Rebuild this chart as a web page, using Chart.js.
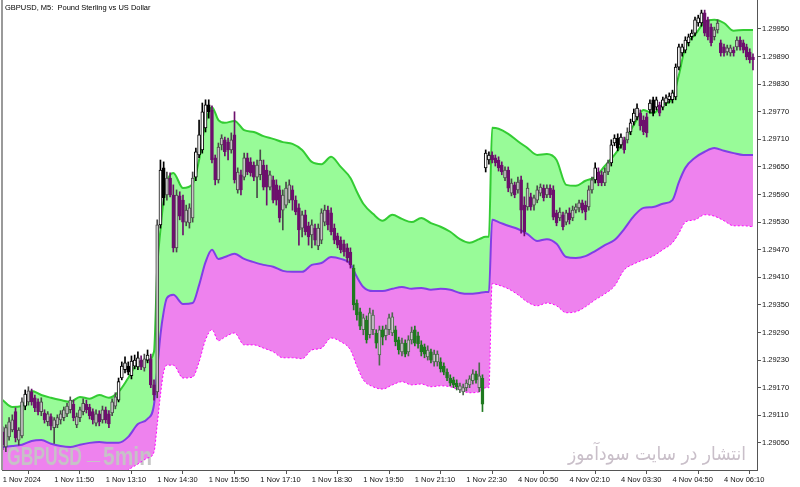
<!DOCTYPE html>
<html><head><meta charset="utf-8">
<script src="https://cdn.jsdelivr.net/npm/chart.js@4.4.1/dist/chart.umd.min.js"></script>
<style>html,body{margin:0;padding:0;background:#fff;overflow:hidden}#wrap{width:800px;height:487px}</style>
</head><body><div id="wrap"><canvas id="c" width="800" height="487"></canvas></div>
<script>
// ---------- DATA (prices in points: 29950 = 1.29950) ----------
const chartTitle = 'GBPUSD, M5:  Pound Sterling vs US Dollar';
const watermarkParts = ['GBPUSD', '_', '5min'];
const watermarkRight = 'انتشار در سایت سودآموز';

const xTickIdx = [0,16,32,48,64,80,96,112,128,144,160,176,192,208,224];
const xTickLabels = ['1 Nov 2024','1 Nov 11:50','1 Nov 13:10','1 Nov 14:30','1 Nov 15:50','1 Nov 17:10','1 Nov 18:30','1 Nov 19:50','1 Nov 21:10','1 Nov 22:30','4 Nov 00:50','4 Nov 02:10','4 Nov 03:30','4 Nov 04:50','4 Nov 06:10'];
const yTickValues = [29050,29110,29170,29230,29290,29350,29410,29470,29530,29590,29650,29710,29770,29830,29890,29950];

const openP = [29074,29041,29063,29078,29118,29056,29065,29130,29139,29161,
29148,29139,29118,29115,29096,29107,29083,29089,29100,29105,
29113,29122,29134,29089,29105,29118,29134,29128,29118,29093,
29113,29100,29122,29113,29115,29130,29143,29191,29209,29217,
29196,29217,29215,29230,29213,29230,29233,29176,29161,29524,
29648,29589,29626,29589,29474,29587,29578,29530,29528,29539,
29628,29676,29687,29735,29785,29774,29670,29622,29698,29709,
29704,29687,29720,29600,29633,29628,29670,29661,29654,29628,
29633,29654,29643,29606,29622,29611,29600,29556,29567,29578,
29600,29578,29561,29517,29546,29522,29502,29517,29478,29491,
29530,29556,29550,29517,29500,29491,29483,29474,29465,29430,
29354,29335,29296,29317,29285,29296,29289,29241,29296,29283,
29296,29289,29296,29274,29248,29267,29248,29274,29296,29283,
29263,29259,29237,29248,29226,29226,29226,29217,29204,29191,
29187,29180,29165,29161,29170,29176,29185,29200,29170,29191,
29648,29665,29676,29670,29665,29654,29626,29643,29593,29611,
29600,29622,29567,29563,29585,29567,29578,29593,29604,29589,
29604,29600,29550,29539,29546,29530,29550,29539,29556,29561,
29572,29567,29563,29600,29622,29639,29633,29615,29639,29659,
29702,29713,29698,29709,29709,29726,29748,29759,29767,29752,
29759,29774,29796,29780,29785,29780,29789,29796,29796,29802,
29867,29898,29904,29920,29933,29941,29963,29963,29985,29970,
29954,29933,29948,29920,29911,29900,29898,29904,29911,29926,
29920,29911,29900,29889];

const highP = [29085,29089,29105,29111,29126,29083,29148,29165,29172,29167,
29154,29146,29148,29122,29118,29113,29105,29111,29120,29128,
29136,29150,29143,29115,29128,29146,29143,29134,29124,29122,
29120,29130,29128,29120,29146,29159,29191,29226,29237,29226,
29239,29241,29248,29239,29243,29252,29243,29187,29535,29665,
29661,29639,29637,29611,29600,29596,29589,29567,29570,29639,
29691,29752,29789,29796,29796,29783,29676,29702,29720,29715,
29713,29724,29770,29648,29643,29680,29680,29670,29661,29665,
29687,29665,29654,29641,29630,29622,29609,29600,29617,29622,
29609,29587,29570,29554,29556,29530,29535,29526,29526,29559,
29567,29565,29561,29526,29506,29498,29491,29483,29474,29437,
29361,29343,29330,29326,29343,29339,29296,29304,29304,29306,
29330,29333,29304,29280,29278,29274,29283,29302,29304,29291,
29272,29265,29261,29254,29252,29250,29235,29224,29211,29198,
29193,29187,29180,29178,29187,29196,29209,29206,29224,29198,
29687,29683,29683,29676,29672,29661,29650,29650,29624,29617,
29628,29630,29585,29615,29593,29589,29609,29613,29611,29611,
29611,29609,29556,29561,29552,29556,29561,29565,29570,29578,
29578,29576,29609,29628,29659,29648,29641,29648,29665,29709,
29720,29722,29722,29715,29735,29754,29776,29787,29774,29761,
29767,29796,29802,29802,29791,29802,29807,29811,29817,29874,
29917,29917,29933,29939,29948,29976,29980,29991,29991,29976,
29961,29954,29970,29926,29917,29915,29915,29911,29933,29933,
29926,29917,29907,29896];

const lowP = [29035,29031,29056,29074,29052,29045,29061,29122,29132,29132,
29118,29111,29109,29093,29087,29078,29049,29083,29091,29098,
29107,29115,29098,29083,29096,29111,29115,29102,29091,29087,
29087,29093,29093,29083,29109,29124,29139,29187,29202,29198,
29189,29211,29209,29209,29206,29224,29170,29143,29148,29517,
29567,29578,29585,29465,29465,29535,29502,29522,29517,29530,
29620,29670,29680,29726,29756,29659,29611,29615,29687,29674,
29665,29680,29615,29593,29589,29622,29633,29630,29620,29583,
29622,29600,29567,29600,29572,29567,29530,29513,29561,29572,
29556,29546,29480,29498,29502,29480,29474,29480,29470,29483,
29522,29513,29502,29483,29474,29463,29456,29443,29430,29339,
29317,29296,29285,29267,29278,29285,29256,29219,29263,29274,
29285,29283,29261,29243,29239,29237,29239,29265,29261,29256,
29239,29235,29230,29224,29217,29217,29204,29198,29185,29174,
29170,29165,29159,29154,29163,29170,29178,29180,29161,29118,
29639,29656,29659,29652,29641,29633,29620,29596,29587,29583,
29593,29506,29500,29556,29556,29556,29572,29587,29576,29583,
29583,29535,29522,29533,29513,29524,29526,29533,29550,29552,
29550,29535,29556,29593,29615,29609,29609,29609,29633,29652,
29696,29685,29691,29680,29702,29720,29741,29752,29730,29720,
29715,29767,29761,29774,29761,29774,29783,29789,29789,29796,
29861,29891,29898,29913,29926,29935,29956,29956,29935,29926,
29913,29926,29941,29891,29891,29893,29891,29891,29904,29904,
29898,29883,29876,29861];

const closeP = [29045,29083,29096,29100,29061,29078,29139,29156,29163,29139,
29126,29118,29139,29100,29113,29087,29100,29105,29113,29122,
29130,29143,29105,29107,29122,29136,29122,29109,29100,29113,
29096,29122,29100,29091,29139,29150,29183,29217,29224,29204,
29228,29230,29235,29215,29233,29241,29176,29154,29524,29643,
29583,29626,29589,29474,29589,29543,29530,29556,29561,29626,
29683,29720,29770,29785,29770,29665,29622,29693,29713,29683,
29687,29709,29622,29639,29600,29670,29639,29637,29628,29654,
29665,29606,29606,29633,29578,29578,29539,29589,29604,29611,
29578,29552,29513,29546,29509,29498,29524,29491,29517,29550,
29556,29524,29509,29491,29480,29470,29465,29452,29437,29350,
29328,29304,29322,29274,29333,29328,29267,29296,29280,29298,
29322,29324,29270,29252,29267,29243,29274,29291,29267,29265,
29248,29243,29252,29230,29243,29243,29211,29204,29191,29180,
29176,29172,29174,29170,29180,29189,29200,29187,29196,29134,
29680,29676,29665,29659,29648,29639,29643,29604,29615,29589,
29617,29556,29509,29604,29563,29583,29600,29606,29583,29604,
29589,29541,29528,29552,29520,29550,29535,29556,29563,29572,
29556,29552,29600,29622,29648,29615,29615,29639,29659,29698,
29713,29691,29715,29687,29726,29746,29767,29778,29739,29726,
29724,29789,29767,29796,29767,29796,29800,29804,29811,29867,
29911,29911,29926,29933,29941,29970,29974,29985,29941,29933,
29920,29948,29963,29898,29898,29909,29909,29898,29926,29911,
29904,29889,29883,29883];

const bandIdx = [0,3,6,9,12,15,18,21,24,27,30,33,36,39,42,45,47,48,49,50,51,53,56,59,61,63,65,67,69,72,75,78,81,84,87,90,93,96,99,102,105,108,110,112,115,118,121,124,127,130,133,136,139,142,145,148,150,151,152,154,157,160,163,166,169,172,175,178,181,184,187,190,193,196,199,202,205,208,210,212,215,218,221,224,227,230,233];

const upperBand = [29143,29128,29130,29163,29154,29148,29143,29139,29150,29146,29154,29148,29161,29191,29224,29230,
29248,29430,29513,29578,29617,
29637,29604,29613,29665,29746,29780,29752,29746,
29750,29730,29726,29717,29711,29704,29700,29687,29661,29656,29672,29650,29626,
29596,29570,
29548,29533,29546,29537,29530,29539,29528,29520,29509,29493,29485,29493,
29498,29498,29735,29733,
29722,29706,29691,29676,29678,29665,29611,29609,29620,29628,29652,29676,29706,29741,29774,29767,29785,29800,
29850,29911,
29937,29965,29970,29963,29946,29948,29948];

const middleBand = [29041,29043,29046,29054,29056,29048,29043,29041,29046,29050,29052,29050,29050,29063,29091,29102,
29133,29209,29285,29335,29365,
29372,29352,29354,29393,29443,29470,29450,29454,
29461,29450,29443,29437,29433,29424,29422,29422,29437,29441,29454,29450,29439,
29411,29389,
29380,29380,29385,29389,29385,29387,29383,29385,29383,29376,29374,29376,
29378,29378,29535,29530,
29522,29515,29504,29489,29493,29483,29454,29452,29456,29467,29480,29491,29515,29543,29561,29563,29570,29578,
29617,29648,
29670,29683,29691,29685,29680,29676,29676];

const lowerBand = [28937,28937,28937,28943,28948,28943,28937,28937,28941,28948,28952,28959,28974,28991,29004,29017,
29030,29089,29154,29204,29219,
29219,29191,29193,29226,29274,29296,29272,29280,
29289,29263,29263,29256,29248,29235,29235,29233,29252,29256,29278,29270,29252,
29217,29187,
29172,29167,29176,29183,29176,29178,29172,29174,29172,29165,29159,29161,
29170,29170,29396,29393,
29385,29372,29356,29348,29354,29348,29333,29335,29346,29361,29374,29391,29426,29439,29448,29456,29470,29485,
29506,29530,
29535,29546,29543,29533,29522,29522,29520];

// ---------- helpers ----------
function bandAt(arr, i){
  for (let k = 0; k < bandIdx.length - 1; k++){
    if (i >= bandIdx[k] && i <= bandIdx[k+1]){
      const t = (i - bandIdx[k]) / (bandIdx[k+1] - bandIdx[k]);
      return arr[k] + (arr[k+1] - arr[k]) * t;
    }
  }
  return arr[arr.length-1];
}
function regionOf(i){
  const mid = (openP[i] + closeP[i]) / 2;
  if (mid > bandAt(upperBand, i)) return 0;
  if (mid > bandAt(middleBand, i)) return 1;
  return 2;
}
const BODY = [ {bull:'#ffffff', bear:'#000000'}, {bull:'#c6c6c6', bear:'#6d106d'}, {bull:'#d2c6d2', bear:'#1f7a1f'} ];
const EDGE = [ {bull:'#000000', bear:'#000000'}, {bull:'#4a4a4a', bear:'#6d106d'}, {bull:'#4d6a4d', bear:'#1f7a1f'} ];
function isBull(i){ return closeP[i] >= openP[i]; }

const bars = openP.map((_, i) => i);
const bodyData = bars.map(i => ({x: i, y: [openP[i], closeP[i]]}));
const wickData = bars.map(i => ({x: i, y: [lowP[i], highP[i]]}));
const pts = arr => bandIdx.map((b, k) => ({x: b, y: arr[k]}));

Chart.defaults.font.family = '"Liberation Sans", Arial, sans-serif';
Chart.defaults.font.size = 7.5;
Chart.defaults.color = '#111';

const decor = {
  id: 'decor',
  beforeDatasetsDraw(chart){
    const ctx = chart.ctx;
    ctx.save();
    ctx.font = 'bold 26px "Liberation Sans", Arial, sans-serif';
    ctx.fillStyle = 'rgba(196,196,196,0.95)';
    ctx.textBaseline = 'alphabetic';
    const spans = [[7, 82, 465], [87, 100, 459], [103, 152, 465]];
    watermarkParts.forEach((t, k) => {
      const [x0, x1, base] = spans[k];
      const w = ctx.measureText(t).width;
      ctx.save();
      ctx.translate(x0, base);
      ctx.scale((x1 - x0) / w, 1);
      ctx.fillText(t, 0, 0);
      ctx.restore();
    });
    ctx.restore();

    ctx.save();
    ctx.font = '19px "DejaVu Sans", sans-serif';
    ctx.fillStyle = '#c9bfc9';
    ctx.direction = 'rtl';
    ctx.textAlign = 'right';
    ctx.textBaseline = 'alphabetic';
    const w2 = ctx.measureText(watermarkRight).width;
    ctx.translate(746, 460);
    ctx.scale(178 / w2, 1);
    ctx.fillText(watermarkRight, 0, 0);
    ctx.restore();
  },
  afterDraw(chart){
    const ctx = chart.ctx, a = chart.chartArea;
    ctx.save();
    ctx.fillStyle = '#9a9a9a';
    ctx.fillRect(1, 0, 2, a.bottom);
    ctx.font = '7.5px "Liberation Sans", Arial, sans-serif';
    ctx.fillStyle = '#000';
    ctx.textBaseline = 'top';
    ctx.fillText(chartTitle, 5, 4);
    ctx.restore();
  }
};

new Chart(document.getElementById('c'), {
  type: 'bar',
  data: {
    datasets: [
      { type:'line', label:'upper', data: pts(upperBand), borderColor:'#33cc33', borderWidth:2,
        pointRadius:0, cubicInterpolationMode:'monotone', fill:{target:'+1'}, backgroundColor:'#98fb98', order:2 },
      { type:'line', label:'middle', data: pts(middleBand), borderColor:'#7f3fe6', borderWidth:2,
        pointRadius:0, cubicInterpolationMode:'monotone', fill:{target:'+1'}, backgroundColor:'#ee82ee', order:3 },
      { type:'line', label:'lower', data: pts(lowerBand), borderColor:'#ff00ff', borderWidth:1, borderDash:[2,2],
        pointRadius:0, cubicInterpolationMode:'monotone', fill:false, order:4 },
      { type:'bar', label:'body', data: bodyData, grouped:false, barThickness:3, borderSkipped:false, borderWidth:1,
        backgroundColor: c => BODY[regionOf(c.dataIndex)][isBull(c.dataIndex)?'bull':'bear'],
        borderColor: c => EDGE[regionOf(c.dataIndex)][isBull(c.dataIndex)?'bull':'bear'], order:0 },
      { type:'bar', label:'wick', data: wickData, grouped:false, barThickness:1, borderWidth:0,
        backgroundColor: c => EDGE[regionOf(c.dataIndex)][isBull(c.dataIndex)?'bull':'bear'], order:1 }
    ]
  },
  options: {
    responsive:false, animation:false, events:[],
    layout:{ padding:{ left:2, top:0, right:0, bottom:0 } },
    plugins:{ legend:{display:false}, tooltip:{enabled:false}, title:{display:false},
      filler:{ propagate:false, drawTime:'beforeDatasetsDraw' } },
    scales:{
      x:{ type:'linear', position:'bottom', min:-0.2, max:234.25, offset:false,
        afterBuildTicks: s => { s.ticks = xTickIdx.map(v => ({value:v})); },
        afterFit: s => { s.height = 17; s.paddingLeft = 0; s.paddingRight = 0; },
        ticks:{ autoSkip:false, maxRotation:0, minRotation:0, align:'start', padding:1, color:'#111',
          callback: v => { const k = xTickIdx.indexOf(v); return k >= 0 ? xTickLabels[k] : ''; } },
        grid:{ drawOnChartArea:false, drawTicks:true, tickLength:4, color:'#555' },
        border:{ display:true, color:'#555', width:1 } },
      y:{ type:'linear', position:'right', min:28991, max:30013,
        afterBuildTicks: s => { s.ticks = yTickValues.map(v => ({value:v})); },
        afterFit: s => { s.width = 43; s.paddingTop = 0; s.paddingBottom = 0; },
        ticks:{ autoSkip:false, padding:1, color:'#111', callback: v => (1 + v/100000).toFixed(5) },
        grid:{ drawOnChartArea:false, drawTicks:true, tickLength:4, color:'#555' },
        border:{ display:true, color:'#555', width:1 } }
    }
  },
  plugins:[decor]
});
</script>
</body></html>
